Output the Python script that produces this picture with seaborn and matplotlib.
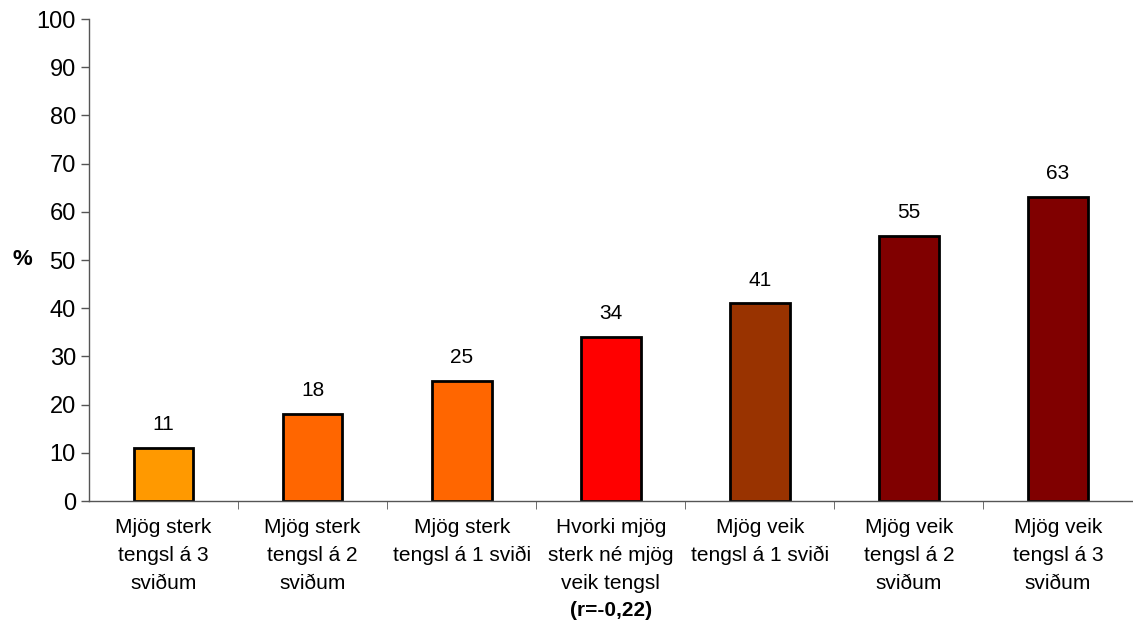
import matplotlib
matplotlib.use("Agg")
import matplotlib.pyplot as plt
import seaborn as sns
import pandas as pd

categories = [
    "Mjög sterk\ntengsl á 3\nsviðum",
    "Mjög sterk\ntengsl á 2\nsviðum",
    "Mjög sterk\ntengsl á 1 sviði",
    "Hvorki mjög\nsterk né mjög\nveik tengsl",
    "Mjög veik\ntengsl á 1 sviði",
    "Mjög veik\ntengsl á 2\nsviðum",
    "Mjög veik\ntengsl á 3\nsviðum",
]
values = [11, 18, 25, 34, 41, 55, 63]
colors = ["#FF9900", "#FF6600", "#FF6600", "#FF0000", "#993300", "#800000", "#800000"]
note = "(r=-0,22)"

df = pd.DataFrame({"cat": categories, "val": values})

sns.set_style("white")
plt.rcParams["font.family"] = ["Liberation Sans", "DejaVu Sans"]
plt.rcParams["text.color"] = "black"
plt.rcParams["axes.labelcolor"] = "black"

fig = plt.figure(figsize=(11.33, 6.28), dpi=100)
ax = fig.add_axes([0.0786, 0.2022, 0.921, 0.7675])

sns.barplot(data=df, x="cat", y="val", hue="cat", palette=colors, legend=False,
            width=0.4, edgecolor="black", linewidth=2, saturation=1, ax=ax)

for i, v in enumerate(values):
    ax.annotate(str(v), (i, v), xytext=(0, 10), textcoords="offset points",
                ha="center", va="bottom", fontsize=15, color="black")

ax.set_ylim(0, 100)
ax.set_xlim(-0.5, len(values) - 0.5)
ax.set_yticks(range(0, 101, 10))
ax.tick_params(axis="y", labelsize=17, length=6, direction="out", left=True, width=1,
               color="#555555", labelcolor="black")
ax.tick_params(axis="x", labelsize=15, length=0, pad=12, labelcolor="black")
ax.set_xticks(range(len(values)))
ax.set_xticklabels(categories, linespacing=1.6)
# ticks between categories
ax.set_xticks([i + 0.5 for i in range(len(values))], minor=True)
ax.tick_params(axis="x", which="minor", length=6, bottom=True, color="#555555")

ax.set_xlabel("")
ax.set_ylabel("%", rotation=0, fontsize=16, fontweight="bold")
ax.yaxis.set_label_coords(-0.064, 0.48)

for s in ["top", "right"]:
    ax.spines[s].set_visible(False)
for s in ["left", "bottom"]:
    ax.spines[s].set_color("#555555")
    ax.spines[s].set_linewidth(1)

ax.text(3, -0.228, note, transform=ax.get_xaxis_transform(), ha="center",
        va="center", fontsize=15, fontweight="bold", color="black")

fig.savefig("out.png", dpi=100)
